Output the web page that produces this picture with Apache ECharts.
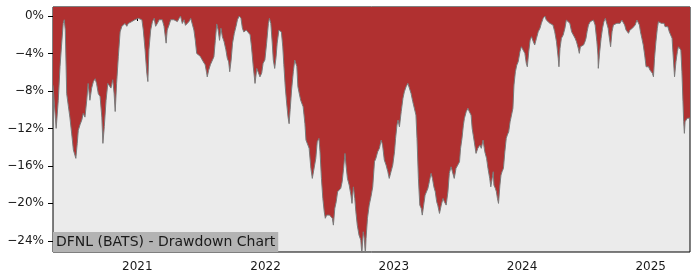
<!DOCTYPE html>
<html>
<head>
<meta charset="utf-8">
<script src="https://cdn.jsdelivr.net/npm/echarts@6/dist/echarts.min.js"></script>
<style>
html,body{margin:0;padding:0;background:#fff;}
#chart{width:700px;height:280px;}
</style>
</head>
<body>
<div id="chart"></div>
<script>
const dates = [
'2020-05-06','2020-05-15','2020-05-21','2020-05-26','2020-05-30','2020-06-04','2020-06-07','2020-06-10','2020-06-14','2020-06-19',
'2020-06-23','2020-06-28','2020-07-03','2020-07-10','2020-07-14','2020-07-17','2020-07-22','2020-07-27','2020-07-31','2020-08-05',
'2020-08-10','2020-08-14','2020-08-19','2020-08-24','2020-08-29','2020-09-03','2020-09-07','2020-09-12','2020-09-17','2020-09-22',
'2020-09-25','2020-09-29','2020-10-04','2020-10-09','2020-10-13','2020-10-18','2020-10-23','2020-10-27','2020-10-30','2020-11-03',
'2020-11-08','2020-11-13','2020-11-18','2020-11-22','2020-11-27','2020-12-02','2020-12-06','2020-12-11','2020-12-16','2020-12-21',
'2020-12-25','2020-12-30',
'2021-01-04','2021-01-09','2021-01-14','2021-01-18','2021-01-23','2021-01-28','2021-01-31','2021-02-03','2021-02-08','2021-02-13',
'2021-02-18','2021-02-22','2021-02-27','2021-03-04','2021-03-09','2021-03-13','2021-03-18','2021-03-24','2021-03-27','2021-04-01',
'2021-04-06','2021-04-11','2021-04-15','2021-04-20','2021-04-25','2021-04-30','2021-05-04','2021-05-09','2021-05-14','2021-05-18',
'2021-05-23','2021-05-28','2021-06-02','2021-06-06','2021-06-11','2021-06-15','2021-06-19','2021-06-24','2021-06-29','2021-07-03',
'2021-07-08','2021-07-13','2021-07-17','2021-07-19','2021-07-23','2021-07-28','2021-08-02','2021-08-07','2021-08-11','2021-08-15',
'2021-08-19','2021-08-23','2021-08-27','2021-08-31','2021-09-05','2021-09-10','2021-09-14','2021-09-18','2021-09-21','2021-09-25',
'2021-09-29','2021-10-04','2021-10-09','2021-10-13','2021-10-18','2021-10-23','2021-10-27','2021-10-31','2021-11-07','2021-11-12',
'2021-11-18','2021-11-22','2021-11-27','2021-12-02','2021-12-07','2021-12-11','2021-12-16','2021-12-21','2021-12-25','2021-12-30',
'2022-01-04','2022-01-09','2022-01-12','2022-01-16','2022-01-20','2022-01-23','2022-01-27','2022-01-31','2022-02-03','2022-02-08',
'2022-02-11','2022-02-15','2022-02-19','2022-02-22','2022-02-26','2022-03-02','2022-03-06','2022-03-09','2022-03-12','2022-03-16',
'2022-03-21','2022-03-25','2022-03-28','2022-03-31','2022-04-03','2022-04-07','2022-04-11','2022-04-15','2022-04-18','2022-04-23',
'2022-04-26','2022-04-29','2022-05-05','2022-05-10','2022-05-14','2022-05-19','2022-05-24','2022-05-28','2022-06-02','2022-06-05',
'2022-06-09','2022-06-13','2022-06-17','2022-06-20','2022-06-24','2022-06-28','2022-07-02','2022-07-06','2022-07-10','2022-07-13',
'2022-07-17','2022-07-21','2022-07-25','2022-07-30','2022-08-03','2022-08-07','2022-08-11','2022-08-15','2022-08-18','2022-08-22',
'2022-08-27','2022-09-01','2022-09-04','2022-09-08','2022-09-12','2022-09-15','2022-09-19','2022-09-24','2022-09-29','2022-10-02',
'2022-10-06','2022-10-09','2022-10-12','2022-10-14','2022-10-18','2022-10-23','2022-10-28','2022-11-02','2022-11-07','2022-11-11',
'2022-11-16','2022-11-21','2022-11-26','2022-11-30','2022-12-05','2022-12-10','2022-12-15','2022-12-19','2022-12-24','2022-12-29',
'2023-01-03','2023-01-06','2023-01-10','2023-01-13','2023-01-17','2023-01-22','2023-01-27','2023-01-31','2023-02-05','2023-02-10',
'2023-02-14','2023-02-19','2023-02-24','2023-02-28','2023-03-05','2023-03-08','2023-03-12','2023-03-16','2023-03-20','2023-03-23',
'2023-03-27','2023-03-31','2023-04-04','2023-04-08','2023-04-12','2023-04-17','2023-04-21','2023-04-25','2023-04-29','2023-05-03',
'2023-05-06','2023-05-11','2023-05-16','2023-05-21','2023-05-25','2023-05-30','2023-06-04','2023-06-08','2023-06-13','2023-06-18',
'2023-06-22','2023-06-27','2023-07-02','2023-07-07','2023-07-10','2023-07-14','2023-07-18','2023-07-21','2023-07-26','2023-07-31',
'2023-08-04','2023-08-09','2023-08-12','2023-08-15','2023-08-18','2023-08-23','2023-08-28','2023-09-03','2023-09-07','2023-09-12',
'2023-09-17','2023-09-22','2023-09-26','2023-10-01','2023-10-04','2023-10-08','2023-10-11','2023-10-13','2023-10-17','2023-10-20',
'2023-10-23','2023-10-26','2023-10-30','2023-11-02','2023-11-05','2023-11-09','2023-11-13','2023-11-17','2023-11-20','2023-11-24',
'2023-11-28','2023-12-02','2023-12-06','2023-12-09','2023-12-13','2023-12-17','2023-12-21','2023-12-26','2023-12-30',
'2024-01-04','2024-01-09','2024-01-13','2024-01-16','2024-01-20','2024-01-24','2024-01-28','2024-02-02','2024-02-06','2024-02-11',
'2024-02-16','2024-02-21','2024-02-25','2024-03-01','2024-03-06','2024-03-10','2024-03-15','2024-03-20','2024-03-25','2024-03-29',
'2024-04-03','2024-04-08','2024-04-13','2024-04-15','2024-04-18','2024-04-22','2024-04-27','2024-05-02','2024-05-06','2024-05-11',
'2024-05-16','2024-05-21','2024-05-26','2024-05-31','2024-06-04','2024-06-09','2024-06-12','2024-06-15','2024-06-20','2024-06-24',
'2024-06-28','2024-07-01','2024-07-04','2024-07-08','2024-07-13','2024-07-18','2024-07-22','2024-07-27','2024-08-01','2024-08-04',
'2024-08-05','2024-08-09','2024-08-13','2024-08-17','2024-08-21','2024-08-25','2024-08-29','2024-09-02','2024-09-05','2024-09-09',
'2024-09-13','2024-09-17','2024-09-22','2024-09-27','2024-10-02','2024-10-06','2024-10-11','2024-10-15','2024-10-19','2024-10-23',
'2024-10-27','2024-10-30','2024-11-03','2024-11-07','2024-11-10','2024-11-14','2024-11-18','2024-11-23','2024-11-26','2024-11-30',
'2024-12-03','2024-12-07','2024-12-11','2024-12-15','2024-12-19','2024-12-23','2024-12-26','2024-12-30',
'2025-01-03','2025-01-06','2025-01-09','2025-01-12','2025-01-16','2025-01-20','2025-01-23','2025-01-27','2025-01-31','2025-02-04',
'2025-02-08','2025-02-11','2025-02-15','2025-02-19','2025-02-23','2025-02-27','2025-03-03','2025-03-06','2025-03-10','2025-03-14',
'2025-03-18','2025-03-21','2025-03-25','2025-03-28','2025-03-31','2025-04-03','2025-04-05','2025-04-07','2025-04-09','2025-04-12',
'2025-04-15','2025-04-19','2025-04-23'
];
const drawdown = [
-7.4,-12.0,-9.0,-5.4,-3.3,-0.8,-0.4,-1.5,-8.3,-9.7,
-10.8,-12.5,-14.3,-15.2,-13.6,-12.2,-11.6,-11.1,-10.4,-10.8,
-9.0,-7.2,-9.0,-7.7,-7.0,-6.7,-7.2,-8.3,-8.6,-10.8,
-13.6,-11.8,-9.0,-7.2,-7.0,-7.7,-6.8,-8.3,-10.2,-7.2,
-4.3,-1.7,-1.1,-1.0,-0.8,-1.1,-0.8,-1.0,-0.6,-0.8,
-0.4,-0.4,
-0.25,-0.25,-0.4,-1.5,-3.6,-6.1,-7.0,-3.6,-1.5,-0.6,
-0.25,-1.1,-0.8,-0.4,-0.6,-0.4,-1.1,-2.9,-1.5,-1.0,
-0.4,-0.25,-0.4,-0.25,-0.6,-0.25,0,-0.8,-0.4,-1.0,
-0.8,-0.6,-0.25,-0.25,-1.5,-2.6,-4.0,-4.2,-4.3,-4.5,
-4.9,-5.2,-6.0,-6.5,-5.8,-5.2,-5.05,-4.35,-2.6,-0.85,
-1.5,-2.6,-1.3,-2.2,-2.75,-3.6,-4.5,-4.9,-5.95,-4.7,
-2.9,-1.85,-1.1,-0.4,0,-0.25,-1.3,-1.7,-1.5,-1.7,
-2.0,-3.3,-5.4,-7.2,-5.6,-5.6,-6.5,-6.1,-5.05,-4.7,
-2.9,-0.8,-0.25,-0.8,-2.9,-4.7,-5.6,-4.35,-2.9,-1.5,
-1.3,-1.7,-3.3,-5.2,-7.55,-9.3,-10.8,-11.5,-10.0,-7.9,
-5.95,-4.7,-4.5,-5.4,-7.55,-8.3,-9.0,-9.0,-9.7,-11.5,
-13.25,-13.1,-14.13,-16.27,-17.34,-17.52,-15.2,-13.43,-13.07,-14.5,
-17.34,-19.48,-20.9,-21.6,-21.26,-21.08,-21.26,-21.08,-21.6,-22.33,
-20.54,-19.84,-18.77,-18.59,-18.4,-17.7,-16.27,-14.67,-15.92,-17.34,
-18.06,-19.12,-20.01,-18.24,-19.48,-20.9,-22.33,-23.4,-23.93,-25.4,
-23.04,-23.75,-25.4,-23.75,-21.6,-20.19,-19.3,-18.24,-15.56,-15.2,
-14.5,-14.13,-13.25,-13.78,-15.38,-15.92,-16.63,-17.34,-16.63,-15.92,
-14.5,-13.07,-11.65,-11.11,-11.83,-10.22,-8.79,-8.09,-7.55,-7.19,
-7.37,-8.26,-9.15,-9.33,-10.58,-13.07,-17.34,-20.19,-20.54,-21.26,
-20.19,-19.12,-18.77,-18.4,-17.7,-16.8,-17.34,-18.24,-18.77,-19.84,
-20.19,-21.08,-20.19,-19.48,-19.84,-20.19,-18.77,-16.8,-16.1,-15.92,
-17.34,-16.27,-15.92,-15.56,-14.13,-13.07,-11.65,-10.93,-10.22,-9.86,
-10.22,-10.58,-12.0,-12.71,-13.43,-14.67,-14.13,-13.78,-14.13,-13.25,
-14.5,-15.2,-16.27,-17.34,-18.24,-17.34,-16.63,-18.06,-18.4,-18.77,
-19.48,-20.01,-18.06,-16.99,-16.63,-16.27,-14.5,-13.07,-12.71,-12.36,
-11.29,-10.58,-9.86,-7.37,-5.95,-5.24,-4.88,-3.81,-3.28,
-3.45,-3.99,-5.05,-5.42,-3.81,-2.56,-2.21,-2.75,-3.1,-2.38,
-1.68,-1.31,-0.78,-0.25,0,-0.43,-0.61,-0.78,-0.61,-0.96,
-1.68,-2.75,-4.52,-5.42,-3.45,-2.38,-2.03,-1.31,-0.43,-0.25,
-0.78,-1.68,-2.03,-2.38,-2.75,-3.45,-3.99,-3.28,-3.45,-3.1,
-2.75,-2.38,-1.68,-0.96,-0.61,-0.78,-0.43,-0.96,-2.75,-4.17,
-5.59,-3.81,-2.38,-1.31,-0.61,-0.25,-0.43,-1.31,-2.21,-3.28,
-1.68,-0.96,-0.96,-0.78,-0.96,-0.78,-0.43,-0.25,-0.96,-1.5,
-1.31,-1.85,-1.5,-1.68,-1.31,-1.5,-0.96,-0.43,-0.25,-0.96,
-1.68,-2.38,-3.1,-4.17,-5.42,-5.59,-5.42,-5.77,
-5.59,-6.12,-6.49,-4.52,-2.75,-1.31,-0.61,-0.43,-0.78,-0.96,
-0.78,-1.14,-1.31,-1.14,-1.68,-1.5,-2.38,-4.17,-6.49,-4.88,
-3.81,-3.28,-3.1,-3.63,-5.95,-9.15,-11.29,-12.53,-11.29,-11.11,
-10.93,-10.93,-10.9
];
const yTicks = [0, -4, -8, -12, -16, -20, -24];
const yearTicks = ['2021-01-01', '2022-01-01', '2023-01-01', '2024-01-01', '2025-01-01'];
const axisStart = '2020-05-06';
const axisEnd = '2025-04-23';
const titleText = 'DFNL (BATS) - Drawdown Chart';

function ts(s) {
  const p = s.split('-').map(Number);
  return new Date(p[0], p[1] - 1, p[2]).getTime();
}
const seriesData = dates.map((d, i) => [ts(d), drawdown[i]]);
const FONT = 'DejaVu Sans';

const chart = echarts.init(document.getElementById('chart'), null, {renderer: 'canvas'});
chart.setOption({
  animation: false,
  backgroundColor: '#ffffff',
  title: {
    text: titleText,
    left: 53,
    top: 232,
    padding: [2, 3, 2, 3],
    backgroundColor: '#b3b3b3',
    textStyle: {fontFamily: FONT, fontSize: 14, fontWeight: 'normal', color: '#1a1a1a', lineHeight: 16}
  },
  grid: {
    left: 53, right: 10, top: 7, bottom: 28,
    show: true, backgroundColor: '#ebebeb', borderColor: '#000', borderWidth: 1,
    containLabel: false
  },
  xAxis: {
    type: 'value',
    min: ts(axisStart),
    max: ts(axisEnd),
    axisLine: {show: false},
    splitLine: {show: false},
    axisTick: {show: true, length: 5, lineStyle: {color: '#000', width: 1}, customValues: yearTicks.map(ts)},
    axisLabel: {
      customValues: yearTicks.map(ts),
      fontFamily: FONT, fontSize: 12, color: '#1a1a1a', margin: 9,
      formatter: function (v) { return String(new Date(v).getFullYear()); }
    }
  },
  yAxis: {
    type: 'value',
    min: -25.2,
    max: 0.96,
    axisLine: {show: false},
    splitLine: {show: false},
    axisTick: {show: true, length: 5, lineStyle: {color: '#000', width: 1}, customValues: yTicks},
    axisLabel: {
      customValues: yTicks,
      fontFamily: FONT, fontSize: 12, color: '#1a1a1a', margin: 9,
      formatter: function (v) { return (v < 0 ? '\u2212' : '') + Math.abs(v) + '%'; }
    }
  },
  series: [{
    type: 'line',
    data: seriesData,
    showSymbol: false,
    symbol: 'none',
    clip: true,
    lineStyle: {color: '#7a7a7a', width: 1},
    areaStyle: {origin: 'end', color: '#b03030', opacity: 1}
  }]
});
</script>
</body>
</html>
